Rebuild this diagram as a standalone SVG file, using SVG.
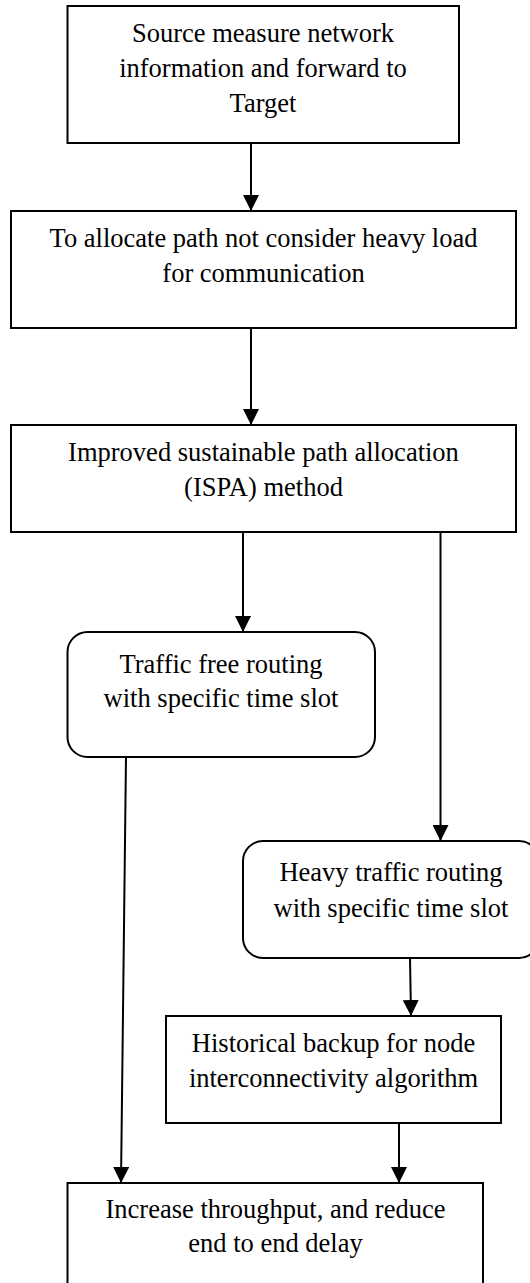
<svg xmlns="http://www.w3.org/2000/svg" width="530" height="1283" viewBox="0 0 530 1283">
<style>
  .box { fill: #ffffff; stroke: #000000; stroke-width: 2; }
  .lbl { font-family: "Liberation Serif", "Times New Roman", serif; font-size: 26.5px; fill: #000000; text-anchor: middle; }
  .edge { stroke: #000000; stroke-width: 2; fill: none; marker-end: url(#arrow); }
</style>
<defs>
  <marker id="arrow" markerUnits="userSpaceOnUse" markerWidth="16" markerHeight="16" viewBox="0 0 16 16" refX="16" refY="8" orient="auto">
    <path d="M0,0 L16,8 L0,16 z" fill="#000000"/>
  </marker>
</defs>
<rect x="0" y="0" width="530" height="1283" fill="#ffffff"/>

<g id="connectors">
  <line class="edge" x1="251" y1="143" x2="251" y2="211"/>
  <line class="edge" x1="251" y1="328" x2="251" y2="425"/>
  <line class="edge" x1="243" y1="532" x2="243" y2="632"/>
  <line class="edge" x1="440.5" y1="532" x2="440.5" y2="841"/>
  <line class="edge" x1="126" y1="757" x2="121" y2="1183"/>
  <line class="edge" x1="410" y1="958" x2="411" y2="1016"/>
  <line class="edge" x1="399" y1="1123" x2="399" y2="1183"/>
</g>

<g id="node-source">
  <rect class="box" x="67.5" y="6" width="391.5" height="137"/>
  <text class="lbl" x="263" y="42">Source measure network</text>
  <text class="lbl" x="263" y="77">information and forward to</text>
  <text class="lbl" x="263" y="112">Target</text>
</g>

<g id="node-allocate">
  <rect class="box" x="11" y="211" width="505" height="117"/>
  <text class="lbl" x="263.5" y="247">To allocate path not consider heavy load</text>
  <text class="lbl" x="263.5" y="282">for communication</text>
</g>

<g id="node-ispa">
  <rect class="box" x="11" y="425" width="505" height="107"/>
  <text class="lbl" x="263.5" y="461">Improved sustainable path allocation</text>
  <text class="lbl" x="263.5" y="496">(ISPA) method</text>
</g>

<g id="node-traffic-free">
  <rect class="box" x="67.5" y="632" width="307.5" height="125" rx="20" ry="20"/>
  <text class="lbl" x="221" y="673">Traffic free routing</text>
  <text class="lbl" x="221" y="707">with specific time slot</text>
</g>

<g id="node-heavy-traffic">
  <rect class="box" x="243" y="841" width="296" height="117" rx="20" ry="20"/>
  <text class="lbl" x="391" y="881">Heavy traffic routing</text>
  <text class="lbl" x="391" y="917">with specific time slot</text>
</g>

<g id="node-historical">
  <rect class="box" x="166" y="1016" width="335" height="107"/>
  <text class="lbl" x="333.5" y="1052">Historical backup for node</text>
  <text class="lbl" x="333.5" y="1087">interconnectivity algorithm</text>
</g>

<g id="node-result">
  <rect class="box" x="67.5" y="1183" width="415.5" height="120"/>
  <text class="lbl" x="275.5" y="1218">Increase throughput, and reduce</text>
  <text class="lbl" x="275.5" y="1252">end to end delay</text>
</g>
</svg>
